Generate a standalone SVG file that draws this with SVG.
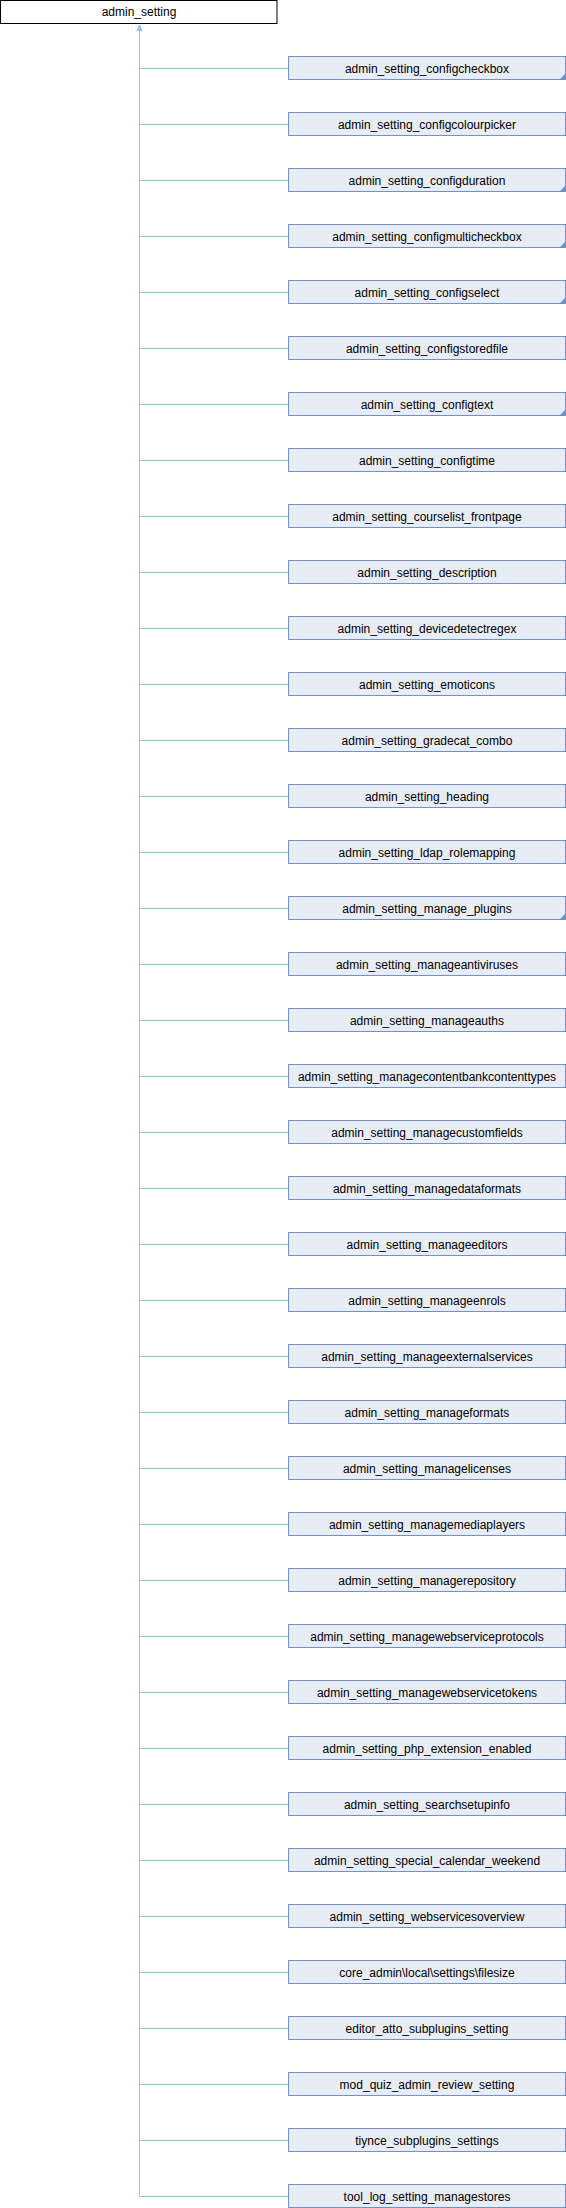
<svg xmlns="http://www.w3.org/2000/svg" width="566" height="2208" viewBox="0 0 566 2208">
<style>
.n rect{fill:#e8ecf5;stroke:#7590c5;stroke-width:1}
.n path{fill:#7590c5;stroke:none}
.r rect{fill:#ffffff;stroke:#000000;stroke-width:1}
text{font-family:"Liberation Sans",Arial,sans-serif;font-size:12px;fill:#000;text-anchor:middle}
.e line,.e path.l{stroke:#8ccbec;stroke-width:1;fill:none}
.e path.a{fill:#8ccbec;stroke:#8ccbec}
</style>
<rect width="566" height="2208" fill="#ffffff"/>
<g id="connectors" class="e">
<line x1="139.5" y1="30" x2="139.5" y2="2196.5"/>
<path class="a" d="M139.5,25 L142,30.5 L137,30.5 Z"/>
<path class="l" d="M139.5,68.5H288M139.5,124.5H288M139.5,180.5H288M139.5,236.5H288M139.5,292.5H288M139.5,348.5H288M139.5,404.5H288M139.5,460.5H288M139.5,516.5H288M139.5,572.5H288M139.5,628.5H288M139.5,684.5H288M139.5,740.5H288M139.5,796.5H288M139.5,852.5H288M139.5,908.5H288M139.5,964.5H288M139.5,1020.5H288M139.5,1076.5H288M139.5,1132.5H288M139.5,1188.5H288M139.5,1244.5H288M139.5,1300.5H288M139.5,1356.5H288M139.5,1412.5H288M139.5,1468.5H288M139.5,1524.5H288M139.5,1580.5H288M139.5,1636.5H288M139.5,1692.5H288M139.5,1748.5H288M139.5,1804.5H288M139.5,1860.5H288M139.5,1916.5H288M139.5,1972.5H288M139.5,2028.5H288M139.5,2084.5H288M139.5,2140.5H288M139.5,2196.5H288"/>
</g>
<g id="admin_setting" class="r"><rect x="0.5" y="0.5" width="276.5" height="23"/><text x="139" y="16">admin_setting</text></g>
<g id="n0" class="n"><rect x="288.5" y="56.5" width="277" height="23"/><path d="M565.5,73.5V79.5H559.5Z"/><text x="427" y="72.5">admin_setting_configcheckbox</text></g>
<g id="n1" class="n"><rect x="288.5" y="112.5" width="277" height="23"/><text x="427" y="128.5">admin_setting_configcolourpicker</text></g>
<g id="n2" class="n"><rect x="288.5" y="168.5" width="277" height="23"/><path d="M565.5,185.5V191.5H559.5Z"/><text x="427" y="184.5">admin_setting_configduration</text></g>
<g id="n3" class="n"><rect x="288.5" y="224.5" width="277" height="23"/><path d="M565.5,241.5V247.5H559.5Z"/><text x="427" y="240.5">admin_setting_configmulticheckbox</text></g>
<g id="n4" class="n"><rect x="288.5" y="280.5" width="277" height="23"/><path d="M565.5,297.5V303.5H559.5Z"/><text x="427" y="296.5">admin_setting_configselect</text></g>
<g id="n5" class="n"><rect x="288.5" y="336.5" width="277" height="23"/><text x="427" y="352.5">admin_setting_configstoredfile</text></g>
<g id="n6" class="n"><rect x="288.5" y="392.5" width="277" height="23"/><path d="M565.5,409.5V415.5H559.5Z"/><text x="427" y="408.5">admin_setting_configtext</text></g>
<g id="n7" class="n"><rect x="288.5" y="448.5" width="277" height="23"/><text x="427" y="464.5">admin_setting_configtime</text></g>
<g id="n8" class="n"><rect x="288.5" y="504.5" width="277" height="23"/><text x="427" y="520.5">admin_setting_courselist_frontpage</text></g>
<g id="n9" class="n"><rect x="288.5" y="560.5" width="277" height="23"/><text x="427" y="576.5">admin_setting_description</text></g>
<g id="n10" class="n"><rect x="288.5" y="616.5" width="277" height="23"/><text x="427" y="632.5">admin_setting_devicedetectregex</text></g>
<g id="n11" class="n"><rect x="288.5" y="672.5" width="277" height="23"/><text x="427" y="688.5">admin_setting_emoticons</text></g>
<g id="n12" class="n"><rect x="288.5" y="728.5" width="277" height="23"/><text x="427" y="744.5">admin_setting_gradecat_combo</text></g>
<g id="n13" class="n"><rect x="288.5" y="784.5" width="277" height="23"/><text x="427" y="800.5">admin_setting_heading</text></g>
<g id="n14" class="n"><rect x="288.5" y="840.5" width="277" height="23"/><text x="427" y="856.5">admin_setting_ldap_rolemapping</text></g>
<g id="n15" class="n"><rect x="288.5" y="896.5" width="277" height="23"/><path d="M565.5,913.5V919.5H559.5Z"/><text x="427" y="912.5">admin_setting_manage_plugins</text></g>
<g id="n16" class="n"><rect x="288.5" y="952.5" width="277" height="23"/><text x="427" y="968.5">admin_setting_manageantiviruses</text></g>
<g id="n17" class="n"><rect x="288.5" y="1008.5" width="277" height="23"/><text x="427" y="1024.5">admin_setting_manageauths</text></g>
<g id="n18" class="n"><rect x="288.5" y="1064.5" width="277" height="23"/><text x="427" y="1080.5">admin_setting_managecontentbankcontenttypes</text></g>
<g id="n19" class="n"><rect x="288.5" y="1120.5" width="277" height="23"/><text x="427" y="1136.5">admin_setting_managecustomfields</text></g>
<g id="n20" class="n"><rect x="288.5" y="1176.5" width="277" height="23"/><text x="427" y="1192.5">admin_setting_managedataformats</text></g>
<g id="n21" class="n"><rect x="288.5" y="1232.5" width="277" height="23"/><text x="427" y="1248.5">admin_setting_manageeditors</text></g>
<g id="n22" class="n"><rect x="288.5" y="1288.5" width="277" height="23"/><text x="427" y="1304.5">admin_setting_manageenrols</text></g>
<g id="n23" class="n"><rect x="288.5" y="1344.5" width="277" height="23"/><text x="427" y="1360.5">admin_setting_manageexternalservices</text></g>
<g id="n24" class="n"><rect x="288.5" y="1400.5" width="277" height="23"/><text x="427" y="1416.5">admin_setting_manageformats</text></g>
<g id="n25" class="n"><rect x="288.5" y="1456.5" width="277" height="23"/><text x="427" y="1472.5">admin_setting_managelicenses</text></g>
<g id="n26" class="n"><rect x="288.5" y="1512.5" width="277" height="23"/><text x="427" y="1528.5">admin_setting_managemediaplayers</text></g>
<g id="n27" class="n"><rect x="288.5" y="1568.5" width="277" height="23"/><text x="427" y="1584.5">admin_setting_managerepository</text></g>
<g id="n28" class="n"><rect x="288.5" y="1624.5" width="277" height="23"/><text x="427" y="1640.5">admin_setting_managewebserviceprotocols</text></g>
<g id="n29" class="n"><rect x="288.5" y="1680.5" width="277" height="23"/><text x="427" y="1696.5">admin_setting_managewebservicetokens</text></g>
<g id="n30" class="n"><rect x="288.5" y="1736.5" width="277" height="23"/><text x="427" y="1752.5">admin_setting_php_extension_enabled</text></g>
<g id="n31" class="n"><rect x="288.5" y="1792.5" width="277" height="23"/><text x="427" y="1808.5">admin_setting_searchsetupinfo</text></g>
<g id="n32" class="n"><rect x="288.5" y="1848.5" width="277" height="23"/><text x="427" y="1864.5">admin_setting_special_calendar_weekend</text></g>
<g id="n33" class="n"><rect x="288.5" y="1904.5" width="277" height="23"/><text x="427" y="1920.5">admin_setting_webservicesoverview</text></g>
<g id="n34" class="n"><rect x="288.5" y="1960.5" width="277" height="23"/><text x="427" y="1976.5">core_admin\local\settings\filesize</text></g>
<g id="n35" class="n"><rect x="288.5" y="2016.5" width="277" height="23"/><text x="427" y="2032.5">editor_atto_subplugins_setting</text></g>
<g id="n36" class="n"><rect x="288.5" y="2072.5" width="277" height="23"/><text x="427" y="2088.5">mod_quiz_admin_review_setting</text></g>
<g id="n37" class="n"><rect x="288.5" y="2128.5" width="277" height="23"/><text x="427" y="2144.5">tiynce_subplugins_settings</text></g>
<g id="n38" class="n"><rect x="288.5" y="2184.5" width="277" height="23"/><text x="427" y="2200.5">tool_log_setting_managestores</text></g>
</svg>
